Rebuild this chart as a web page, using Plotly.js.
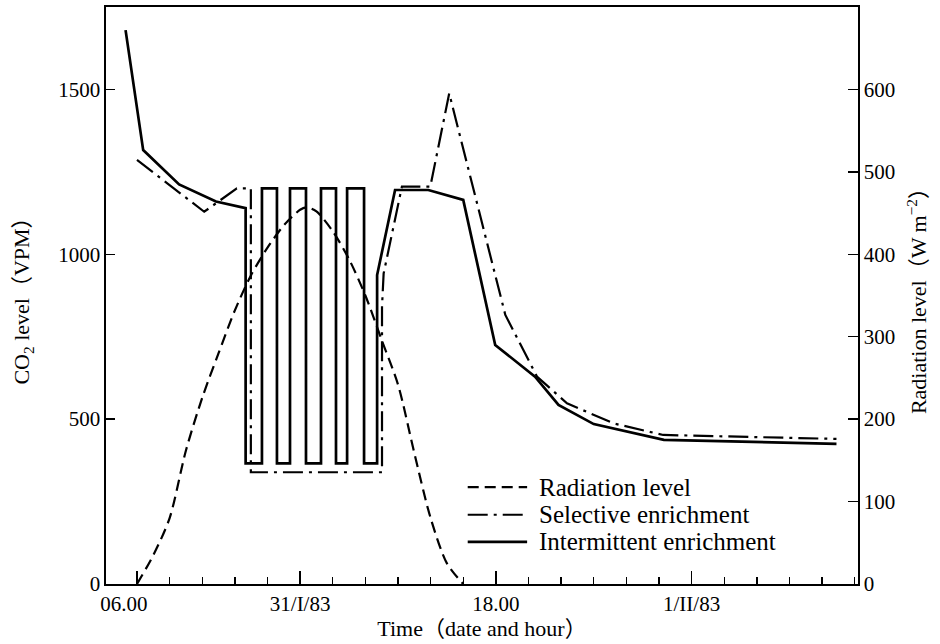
<!DOCTYPE html>
<html>
<head>
<meta charset="utf-8">
<script src="https://cdn.plot.ly/plotly-3.0.1.min.js"></script>
<style>
  html, body { margin: 0; padding: 0; background: #ffffff; }
  #chart { width: 940px; height: 644px; }
</style>
</head>
<body>
<div id="chart"></div>
<script>
// Time axis: hourly steps counted from the 06.00 reading.
var tickHours = [0, 5, 11, 17];
var tickLabels = ['06.00\u00A0\u00A0\u00A0\u00A0\u00A0', '31/I/83', '18.00', '1/II/83'];

// Radiation level (W m-2), right axis
var radHours = [0, 0.5, 1.0, 1.5, 2.0, 2.5, 3.0, 3.5, 4.0, 4.5, 5.0, 5.2, 5.5, 6.0, 6.5, 7.0, 7.5, 8.0, 8.5, 9.0, 9.5, 10.0];
var radValues = [0, 35, 80, 162, 226, 280, 332, 375, 408, 435, 454, 457, 452, 428, 394, 350, 296, 242, 159, 80, 25, 0];

// Selective enrichment, CO2 (VPM)
var selHours = [0, 2.06, 3.06, 3.49, 3.49, 7.51, 7.51, 7.56, 8.12, 8.99, 9.57, 11.29, 12.26, 13.18, 14.61, 16.13, 21.44];
var selValues = [1286, 1129, 1200, 1200, 339, 339, 841, 942, 1205, 1205, 1488, 816, 629, 548, 487, 452, 440];

// Intermittent enrichment, CO2 (VPM)
var intHours = [-0.35, 0.19, 1.29, 2.42, 3.33, 3.33, 3.83, 3.83, 4.29, 4.29, 4.69, 4.69, 5.18, 5.18, 5.64, 5.64,
                6.10, 6.10, 6.44, 6.44, 6.96, 6.96, 7.36, 7.36, 7.91, 8.93, 10.0, 10.98, 12.2, 12.92, 14.0, 16.15, 21.44];
var intValues = [1680, 1316, 1212, 1160, 1140, 366, 366, 1200, 1200, 366, 366, 1200, 1200, 366, 366, 1200,
                 1200, 366, 366, 1200, 1200, 366, 366, 937, 1195, 1195, 1165, 725, 629, 543, 485, 437, 425];

var seriesNames = ['Radiation level', 'Selective enrichment', 'Intermittent enrichment'];
var dashRad = '11px,6px';
var dashSel = '20px,6px,3px,6px';

var serif = '"Liberation Serif", "Times New Roman", "Noto Sans CJK JP", serif';

var traces = [
  {
    x: radHours, y: radValues, yaxis: 'y2', mode: 'lines', name: seriesNames[0],
    line: { color: '#000', width: 2.2, dash: dashRad, shape: 'spline', smoothing: 0.8 },
    showlegend: false, hoverinfo: 'skip'
  },
  {
    x: selHours, y: selValues, mode: 'lines', name: seriesNames[1],
    line: { color: '#000', width: 2.2, dash: dashSel },
    showlegend: false, hoverinfo: 'skip'
  },
  {
    x: intHours, y: intValues, mode: 'lines', name: seriesNames[2],
    line: { color: '#000', width: 2.7 },
    showlegend: false, hoverinfo: 'skip'
  }
];

// Key drawn in the lower right of the plot area
var keyDashes = [dashRad, dashSel, 'solid'];
var keyWidths = [2.2, 2.2, 2.7];
var keyRows = [0.168, 0.120, 0.073];
var shapes = [];
var annotations = [];
for (var i = 0; i < seriesNames.length; i++) {
  shapes.push({
    type: 'line', xref: 'paper', yref: 'paper',
    x0: 0.481, x1: 0.560, y0: keyRows[i], y1: keyRows[i],
    line: { color: '#000', width: keyWidths[i], dash: keyDashes[i] }
  });
  annotations.push({
    xref: 'paper', yref: 'paper', x: 0.573, y: keyRows[i],
    xanchor: 'left', yanchor: 'middle', showarrow: false,
    text: seriesNames[i], font: { family: serif, size: 25, color: '#000' }
  });
}

var layout = {
  width: 940, height: 644,
  margin: { l: 106, r: 82, t: 7, b: 60 },
  paper_bgcolor: '#fff', plot_bgcolor: '#fff',
  showlegend: false,
  font: { family: serif, size: 21, color: '#000' },
  xaxis: {
    range: [-0.95, 22.1],
    tickmode: 'array', tickvals: tickHours, ticktext: tickLabels,
    ticks: 'inside', ticklen: 13, tickwidth: 1.3, tickcolor: '#000',
    minor: { tickmode: 'linear', tick0: 0, dtick: 1, ticks: 'inside', ticklen: 7, tickwidth: 1.3, tickcolor: '#000' },
    showline: true, linecolor: '#000', linewidth: 1.6, mirror: true,
    showgrid: false, zeroline: false,
    tickfont: { family: serif, size: 21, color: '#000' },
    title: { text: 'Time（date and hour）', font: { family: serif, size: 22, color: '#000' }, standoff: 5 }
  },
  yaxis: {
    range: [0, 1750],
    tickmode: 'array', tickvals: [0, 500, 1000, 1500],
    ticks: 'inside', ticklen: 9, tickwidth: 1.3, tickcolor: '#000',
    showline: true, linecolor: '#000', linewidth: 1.6,
    showgrid: false, zeroline: false,
    tickfont: { family: serif, size: 21, color: '#000' },
    title: { text: 'CO<sub>2</sub> level（VPM）', font: { family: serif, size: 22, color: '#000' }, standoff: 22 }
  },
  yaxis2: {
    range: [0, 700], overlaying: 'y', side: 'right', anchor: 'x',
    tickmode: 'array', tickvals: [0, 100, 200, 300, 400, 500, 600],
    ticks: 'inside', ticklen: 10, tickwidth: 1.3, tickcolor: '#000',
    showline: true, linecolor: '#000', linewidth: 1.6,
    showgrid: false, zeroline: false,
    tickfont: { family: serif, size: 21, color: '#000' },
    title: { text: 'Radiation level（W m<sup>−2</sup>）', font: { family: serif, size: 22, color: '#000' }, standoff: 16 }
  },
  shapes: shapes,
  annotations: annotations
};

Plotly.newPlot('chart', traces, layout, { staticPlot: true, displayModeBar: false });
</script>
</body>
</html>
